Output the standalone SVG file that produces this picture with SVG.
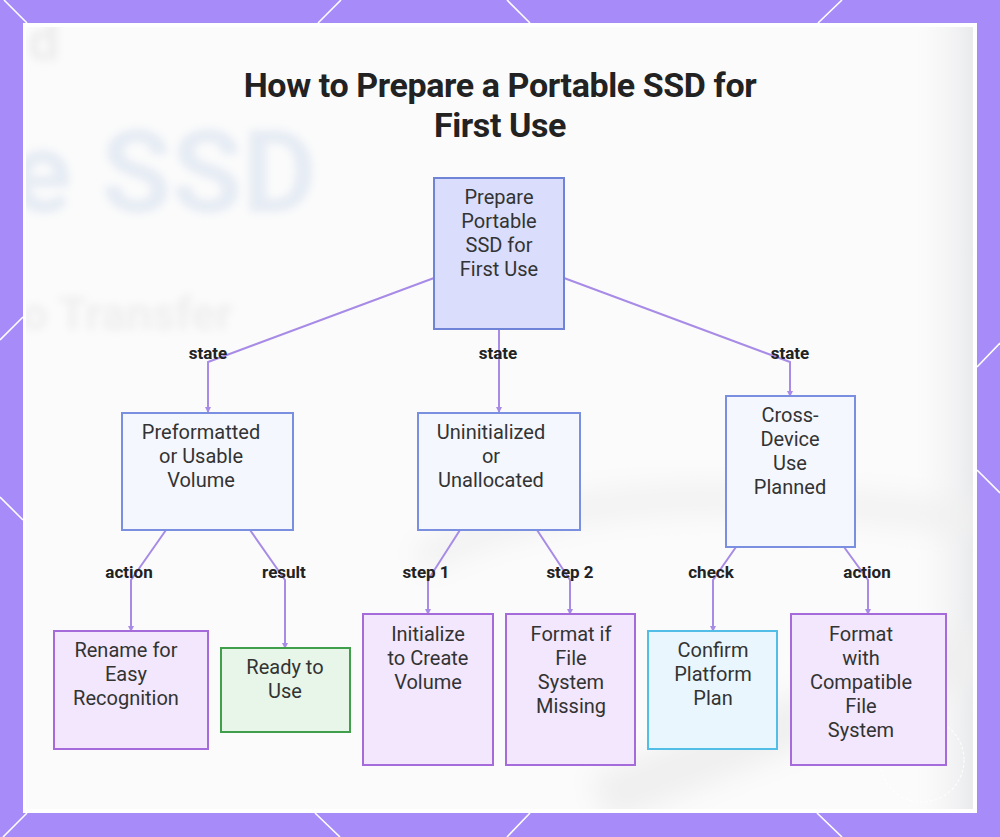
<svg xmlns="http://www.w3.org/2000/svg" width="1000" height="837" viewBox="0 0 1000 837">
  <defs>
    <style>
      .frame-line { stroke: #ffffff; stroke-width: 1.6; fill: none; }
      .node-text { font-family: Roboto, "Liberation Sans", sans-serif; font-size: 20px; fill: #333333; text-anchor: middle; }
      .edge-label { font-family: Roboto, "Liberation Sans", sans-serif; font-size: 17px; font-weight: bold; fill: #222222; text-anchor: middle; }
      .title { font-family: Roboto, "Liberation Sans", sans-serif; font-size: 34px; font-weight: bold; fill: #222222; text-anchor: middle; letter-spacing: -0.4px; }
      .edge { stroke: #a78be6; stroke-width: 2; fill: none; marker-end: url(#arrow); }
      .root { fill: #dadefc; stroke: #6f84d6; stroke-width: 2; }
      .state { fill: #f5f7fe; stroke: #7b8fe0; stroke-width: 2; }
      .action { fill: #f2e7fd; stroke: #a66bdb; stroke-width: 2; }
      .result { fill: #e8f5e9; stroke: #3f9f4a; stroke-width: 2; }
      .check { fill: #eaf6fd; stroke: #52bde6; stroke-width: 2; }
      .bgtext { font-family: Roboto, "Liberation Sans", sans-serif; font-weight: bold; }
    </style>
    <marker id="arrow" markerWidth="6" markerHeight="6" refX="5" refY="3" orient="auto" markerUnits="userSpaceOnUse">
      <path d="M0,0 L6,3 L0,6 z" fill="#a78be6"/>
    </marker>
    <filter id="blur" x="-20%" y="-20%" width="140%" height="140%">
      <feGaussianBlur stdDeviation="4"/>
    </filter>
    <filter id="blur2" x="-20%" y="-50%" width="140%" height="200%">
      <feGaussianBlur stdDeviation="14"/>
    </filter>
    <clipPath id="cardClip">
      <rect x="26" y="27" width="947" height="782"/>
    </clipPath>
    <linearGradient id="rightShade" x1="0" y1="0" x2="1" y2="0">
      <stop offset="0" stop-color="#ffffff" stop-opacity="0"/>
      <stop offset="1" stop-color="#e9eaec" stop-opacity="1"/>
    </linearGradient>
  </defs>

  <!-- Frame -->
  <rect x="0" y="0" width="1000" height="837" fill="#a78bf8"/>
  <g id="frame-lines">
    <line class="frame-line" x1="4" y1="0" x2="27" y2="23"/>
    <line class="frame-line" x1="341" y1="0" x2="318" y2="23"/>
    <line class="frame-line" x1="507" y1="0" x2="530" y2="23"/>
    <line class="frame-line" x1="842" y1="0" x2="818" y2="23"/>
    <line class="frame-line" x1="0" y1="340" x2="23" y2="317"/>
    <line class="frame-line" x1="0" y1="497" x2="23" y2="520"/>
    <line class="frame-line" x1="977" y1="367" x2="1000" y2="343"/>
    <line class="frame-line" x1="977" y1="470" x2="1000" y2="493"/>
    <line class="frame-line" x1="27" y1="813" x2="3" y2="837"/>
    <line class="frame-line" x1="315" y1="813" x2="340" y2="837"/>
    <line class="frame-line" x1="530" y1="813" x2="507" y2="837"/>
    <line class="frame-line" x1="817" y1="813" x2="842" y2="837"/>
  </g>

  <!-- Card -->
  <rect x="23" y="23" width="954" height="790" fill="#ffffff"/>
  <rect x="26" y="27" width="947" height="782" fill="#fbfbfb"/>
  <g id="background" aria-hidden="true" clip-path="url(#cardClip)">
    <rect x="900" y="27" width="73" height="782" fill="url(#rightShade)"/>
    <path d="M420,560 C600,470 800,500 980,520" stroke="#f0f0f0" stroke-width="26" fill="none" filter="url(#blur2)"/>
    <path d="M600,800 C750,740 850,700 980,650" stroke="#efefef" stroke-width="50" fill="none" filter="url(#blur2)"/>
    <g filter="url(#blur)">
      <text class="bgtext" x="28" y="60" font-size="56" fill="#ececec">d</text>
      <text class="bgtext" x="10" y="212" font-size="115" fill="#e6ecf4">e SSD</text>
      <text class="bgtext" x="22" y="330" font-size="46" fill="#eeeeee">o Transfer</text>
    </g>
    <circle cx="922" cy="760" r="42" fill="none" stroke="#ffffff" stroke-width="1.2" stroke-dasharray="3 2" opacity="0.8"/>
  </g>

  <!-- Title -->
  <text class="title" x="500" y="97">How to Prepare a Portable SSD for</text>
  <text class="title" x="500" y="137">First Use</text>

  <!-- Connectors -->
  <g id="connectors">
    <polyline class="edge" points="434,278 208,362 208,412"/>
    <polyline class="edge" points="499,329 499,412"/>
    <polyline class="edge" points="564,278 790,362 790,396"/>
    <polyline class="edge" points="166,530 131,580 131,631"/>
    <polyline class="edge" points="250,530 285,580 285,648"/>
    <polyline class="edge" points="460,530 428,580 428,614"/>
    <polyline class="edge" points="537,530 570,580 570,614"/>
    <polyline class="edge" points="736,547 713,580 713,631"/>
    <polyline class="edge" points="844,547 868,580 868,614"/>
    <text class="edge-label" x="208" y="359">state</text>
    <text class="edge-label" x="498" y="359">state</text>
    <text class="edge-label" x="790" y="359">state</text>
    <text class="edge-label" x="129" y="578">action</text>
    <text class="edge-label" x="284" y="578">result</text>
    <text class="edge-label" x="426" y="578">step 1</text>
    <text class="edge-label" x="570" y="578">step 2</text>
    <text class="edge-label" x="711" y="578">check</text>
    <text class="edge-label" x="867" y="578">action</text>
  </g>

  <!-- Nodes -->
  <g id="node-root">
    <rect class="root" x="434" y="178" width="130" height="151"/>
    <text class="node-text" x="499" y="204">Prepare</text>
    <text class="node-text" x="499" y="228">Portable</text>
    <text class="node-text" x="499" y="252">SSD for</text>
    <text class="node-text" x="499" y="276">First Use</text>
  </g>
  <g id="node-preformatted">
    <rect class="state" x="122" y="413" width="171" height="117"/>
    <text class="node-text" x="201" y="439">Preformatted</text>
    <text class="node-text" x="201" y="463">or Usable</text>
    <text class="node-text" x="201" y="487">Volume</text>
  </g>
  <g id="node-uninitialized">
    <rect class="state" x="418" y="413" width="162" height="117"/>
    <text class="node-text" x="491" y="439">Uninitialized</text>
    <text class="node-text" x="491" y="463">or</text>
    <text class="node-text" x="491" y="487">Unallocated</text>
  </g>
  <g id="node-crossdevice">
    <rect class="state" x="726" y="396" width="129" height="151"/>
    <text class="node-text" x="790" y="422">Cross-</text>
    <text class="node-text" x="790" y="446">Device</text>
    <text class="node-text" x="790" y="470">Use</text>
    <text class="node-text" x="790" y="494">Planned</text>
  </g>
  <g id="node-rename">
    <rect class="action" x="54" y="631" width="154" height="118"/>
    <text class="node-text" x="126" y="657">Rename for</text>
    <text class="node-text" x="126" y="681">Easy</text>
    <text class="node-text" x="126" y="705">Recognition</text>
  </g>
  <g id="node-ready">
    <rect class="result" x="221" y="648" width="129" height="84"/>
    <text class="node-text" x="285" y="674">Ready to</text>
    <text class="node-text" x="285" y="698">Use</text>
  </g>
  <g id="node-initialize">
    <rect class="action" x="363" y="614" width="130" height="151"/>
    <text class="node-text" x="428" y="641">Initialize</text>
    <text class="node-text" x="428" y="665">to Create</text>
    <text class="node-text" x="428" y="689">Volume</text>
  </g>
  <g id="node-formatif">
    <rect class="action" x="506" y="614" width="129" height="151"/>
    <text class="node-text" x="571" y="641">Format if</text>
    <text class="node-text" x="571" y="665">File</text>
    <text class="node-text" x="571" y="689">System</text>
    <text class="node-text" x="571" y="713">Missing</text>
  </g>
  <g id="node-confirm">
    <rect class="check" x="648" y="631" width="129" height="118"/>
    <text class="node-text" x="713" y="657">Confirm</text>
    <text class="node-text" x="713" y="681">Platform</text>
    <text class="node-text" x="713" y="705">Plan</text>
  </g>
  <g id="node-formatwith">
    <rect class="action" x="791" y="614" width="155" height="151"/>
    <text class="node-text" x="861" y="641">Format</text>
    <text class="node-text" x="861" y="665">with</text>
    <text class="node-text" x="861" y="689">Compatible</text>
    <text class="node-text" x="861" y="713">File</text>
    <text class="node-text" x="861" y="737">System</text>
  </g>
</svg>
